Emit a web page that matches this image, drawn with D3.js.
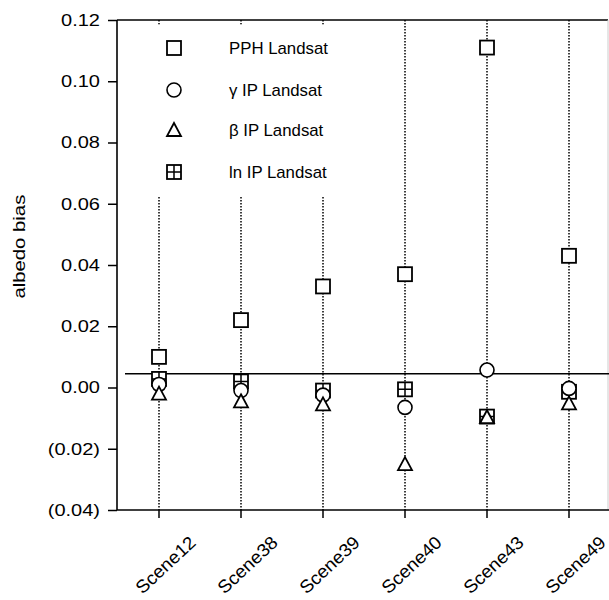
<!DOCTYPE html>
<html><head><meta charset="utf-8">
<script src="https://cdnjs.cloudflare.com/ajax/libs/d3/7.8.5/d3.min.js"></script>
<style>body{margin:0;background:#fff}svg{display:block}text{font-family:"Liberation Sans",Arial,Helvetica,sans-serif}</style>
</head><body><svg id="c" width="609" height="600"></svg>
<script>
const scenes = ["Scene12","Scene38","Scene39","Scene40","Scene43","Scene49"];
const pphLandsat   = [0.010, 0.022, 0.033, 0.037, 0.111, 0.043];
const gammaLandsat = [0.001, -0.001, -0.0025, -0.0065, 0.0057, -0.0003];
const betaLandsat  = [-0.002, -0.0045, -0.0055, -0.025, -0.0097, -0.0052];
const lnLandsat    = [0.0028, 0.002, -0.001, -0.0006, -0.0095, -0.0014];
const yTicks = [-0.04,-0.02,0,0.02,0.04,0.06,0.08,0.10,0.12];
const refLine = 0.0045;
const seriesNames = ["PPH Landsat","γ IP Landsat","β IP Landsat","ln IP Landsat"];

const svg = d3.select("#c");
const x = d3.scaleBand().domain(scenes).range([118,610]);
const y = d3.scaleLinear().domain([-0.04,0.12]).range([510,20]);
const cx = s => x(s) + x.bandwidth()/2;

// frame lines
svg.append("line").attr("x1",117).attr("x2",608).attr("y1",y(0.12)).attr("y2",y(0.12)).attr("stroke","#000").attr("stroke-width",1.5);
svg.append("line").attr("x1",608).attr("x2",608).attr("y1",y(0.12)).attr("y2",y(-0.04)).attr("stroke","#ccc").attr("stroke-width",1);

// vertical dotted lines
svg.append("g").selectAll("line").data(scenes).join("line")
  .attr("x1",cx).attr("x2",cx).attr("y1",y(0.12)).attr("y2",y(-0.04))
  .attr("stroke","#000").attr("stroke-width",1.5).attr("stroke-dasharray","1.5,1.5");

// legend background hides dotted lines
svg.append("rect").attr("x",140).attr("y",y(0.1185)).attr("width",200).attr("height",y(0.0625)-y(0.1185)).attr("fill","#fff");

// reference line
svg.append("line").attr("x1",125).attr("x2",609).attr("y1",y(refLine)).attr("y2",y(refLine)).attr("stroke","#000").attr("stroke-width",1.6);

// axes
const yAxis = d3.axisLeft(y).tickValues(yTicks).tickSize(9).tickPadding(0)
  .tickFormat(v => { const s = d3.format(".2f")(Math.abs(v)); return v < -1e-9 ? "(" + s + ")" : s; });
const gy = svg.append("g").attr("transform","translate(117,0)").call(yAxis);
gy.select(".domain").attr("stroke-width",1.6).attr("d","M0,"+y(0.12)+"V"+y(-0.04));
gy.selectAll(".tick line").attr("stroke-width",1.5);
gy.selectAll(".tick text").attr("font-size",16).attr("fill","#000")
  .attr("x",0).attr("dy","0.33em").attr("text-anchor","end")
  .attr("transform","translate(-17,0) scale(1.25,1)");

const xAxis = d3.axisBottom(x).tickSize(8).tickFormat(d=>d);
const gx = svg.append("g").attr("transform","translate(0,510)").call(xAxis);
gx.select(".domain").attr("stroke-width",1.6).attr("d","M117,0H609");
gx.selectAll(".tick line").attr("stroke-width",1.5);
gx.selectAll(".tick text").attr("font-size",18).attr("fill","#000")
  .attr("text-anchor","end").attr("dy",0).attr("y",0)
  .attr("transform","translate(38,34) rotate(-43) scale(1.05,1)");

// y title
svg.append("text").attr("transform",`translate(25,${y(0.046)}) rotate(-90) scale(1.27,1)`)
  .attr("text-anchor","middle").attr("font-size",16).text("albedo bias");

// symbols
function drawSym(g, type, px, py) {
  const h = 7;
  if (type === 0) {
    g.append("rect").attr("x",px-h).attr("y",py-h).attr("width",2*h).attr("height",2*h)
      .attr("fill","#fff").attr("stroke","#000").attr("stroke-width",1.8);
  } else if (type === 1) {
    g.append("circle").attr("cx",px).attr("cy",py).attr("r",h)
      .attr("fill","#fff").attr("stroke","#000").attr("stroke-width",1.6);
  } else if (type === 2) {
    g.append("path").attr("d",`M${px},${py-h}L${px+h},${py+h-1}L${px-h},${py+h-1}Z`)
      .attr("fill","#fff").attr("stroke","#000").attr("stroke-width",1.8);
  } else {
    g.append("rect").attr("x",px-h).attr("y",py-h).attr("width",2*h).attr("height",2*h)
      .attr("fill","#fff").attr("stroke","#000").attr("stroke-width",1.8);
    g.append("path").attr("d",`M${px-h},${py}H${px+h}M${px},${py-h}V${py+h}`)
      .attr("stroke","#000").attr("stroke-width",1.5);
  }
}
const allSeries = [pphLandsat, gammaLandsat, betaLandsat, lnLandsat];
const marks = svg.append("g");
// draw order: ln, PPH, gamma, beta
[3,0,1,2].forEach(si => {
  allSeries[si].forEach((v,i) => drawSym(marks, si, cx(scenes[i]), y(v)));
});

// legend
const lg = svg.append("g");
const legY = [48, 90, 130, 172];
seriesNames.forEach((n,i) => {
  drawSym(lg, i, 174, legY[i]);
  lg.append("text").attr("transform",`translate(229,${legY[i]+5.5}) scale(1.05,1)`)
    .attr("font-size",16).text(n);
});
</script></body></html>
